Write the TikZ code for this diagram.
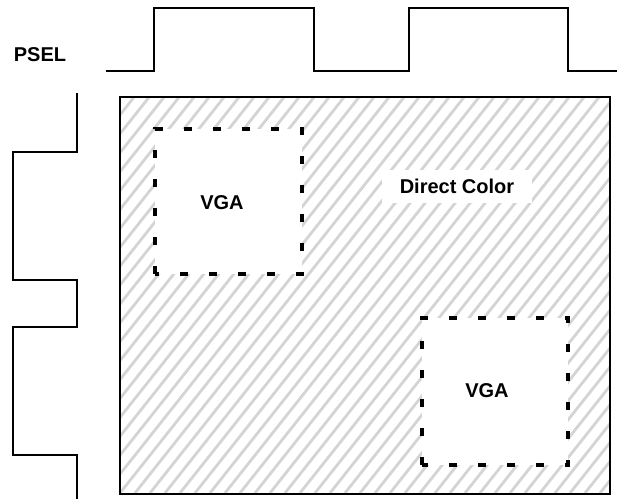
\documentclass[tikz,border=0pt]{standalone}
\usepackage{fontspec}
\setmainfont{Liberation Sans}
\begin{document}
\begin{tikzpicture}[x=1pt,y=-1pt,
  wave/.style={line width=2pt,line join=miter},
  hatch/.style={line width=2.8pt,draw={rgb,255:red,212;green,212;blue,212}},
  frame/.style={line width=2.2pt},
  vgabox/.style={line width=3.5pt,dash pattern=on 8pt off 21pt,line cap=butt},
  lbl/.style={font=\fontsize{20}{24}\selectfont\bfseries,inner sep=0pt}]
\useasboundingbox (0,0) rectangle (617,499);
% hatched area
\begin{scope}
  \clip (119,96) rectangle (609,493);
  \foreach \x in {-210,-195,...,620}{
    \draw[hatch] (\x,493) -- ({\x+315},96);
  }
\end{scope}
\node[frame,draw,minimum width=490pt,minimum height=397pt,inner sep=0pt,anchor=north west] (area) at (119,96) {};
% white label boxes
\node[fill=white,minimum width=150pt,minimum height=33pt,inner sep=0pt] (dcbox) at (457,186.5) {};
\node[lbl] (dc) at (dcbox.center) {Direct Color};
\path[fill=white] (155,129) rectangle (302,274);
\draw[vgabox] (155,274) -- (155,129) -- (302,129) -- (302,274) -- cycle;
\node[lbl] (vga1) at (222,203) {VGA};
\path[fill=white] (422,318) rectangle (568,465);
\draw[vgabox] (422,465) -- (422,318) -- (568,318) -- (568,465) -- cycle;
\node[lbl] (vga2) at (487,391) {VGA};
% PSEL waveform
\node[lbl] (psel) at (40,55) {PSEL};
\coordinate (ts) at (106,71);
\coordinate (te) at (617,71);
\draw[wave] (ts) -- (154,71) -- (154,8) -- (314,8) -- (314,71) -- (409,71) -- (409,8) -- (568,8) -- (568,71) -- (te);
% left waveform
\coordinate (ls) at (77,93);
\coordinate (le) at (77,499);
\draw[wave] (ls) -- (77,152) -- (13,152) -- (13,280) -- (77,280) -- (77,327) -- (13,327) -- (13,455) -- (77,455) -- (le);
\end{tikzpicture}
\end{document}
